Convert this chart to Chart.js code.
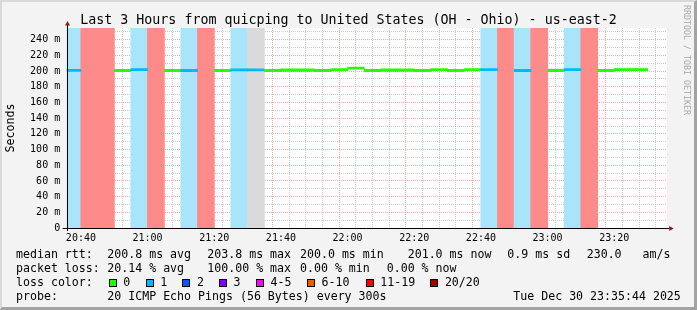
<!DOCTYPE html>
<html>
<head>
<meta charset="utf-8">
<script src="https://cdn.jsdelivr.net/npm/chart.js@4/dist/chart.umd.min.js"></script>
<style>
html,body{margin:0;padding:0;background:#f3f3f3;}
#wrap{position:relative;width:697px;height:310px;overflow:hidden;background:#f3f3f3;}
#frame{position:absolute;left:0;top:0;width:697px;height:310px;box-sizing:border-box;border-top:2px solid #d9d9d9;border-left:2px solid #d9d9d9;border-right:3px solid #a3a3a3;border-bottom:3px solid #a3a3a3;pointer-events:none;z-index:5;}
canvas{position:absolute;left:0;top:0;}
.mono{font-family:"DejaVu Sans Mono",monospace;color:#000;white-space:pre;position:absolute;}
.t{font-size:11.6px;line-height:14px;height:14px;}
#title{left:0;width:697px;text-align:center;top:11.5px;font-size:13.3px;line-height:16px;}
#ylab{font-size:11.6px;line-height:14px;width:100px;text-align:center;left:-40px;top:121px;transform:rotate(-90deg);}
#credit{font-size:8.3px;line-height:10px;width:120px;text-align:center;left:627px;top:55px;transform:rotate(90deg);color:#a8a8a8;}
.box{position:absolute;width:8px;height:8px;box-sizing:border-box;border:1px solid #000;}
</style>
</head>
<body>
<div id="wrap">
  <canvas id="c" width="697" height="310"></canvas>
  <div id="title" class="mono"></div>
  <div id="ylab" class="mono">Seconds</div>
  <div id="credit" class="mono">RRDTOOL / TOBI OETIKER</div>
  <div id="legend"></div>
  <div id="frame"></div>
</div>
<script>
// ---------------- data ----------------
const chartTitle = "Last 3 Hours from quicping to United States (OH - Ohio) - us-east-2";
const endTime = "23:35:44";
const rangeMinutes = 180;
const stepMinutes = 5;
const stepTimes = ["20:35","20:40","20:45","20:50","20:55","21:00","21:05","21:10","21:15","21:20","21:25","21:30",
                   "21:35","21:40","21:45","21:50","21:55","22:00","22:05","22:10","22:15","22:20","22:25","22:30",
                   "22:35","22:40","22:45","22:50","22:55","23:00","23:05","23:10","23:15","23:20","23:25","23:30"];
// lost pings out of 20 per step (null = no data)
const lossCount = [1,20,20,0,1,20,0,1,20,0,1,1,
                   0,0,0,0,0,0,0,0,0,0,0,0,
                   0,1,20,1,20,0,1,20,0,0,0,null];
// median round trip time in ms
const medianRtt = [201.0,null,null,200.8,201.8,null,200.8,200.8,null,200.8,201.6,201.6,
                   200.8,201.7,201.7,200.8,201.9,203.8,200.8,201.7,201.7,200.8,201.8,200.8,
                   201.9,201.9,null,200.8,null,200.8,201.9,null,200.8,201.9,201.9,null];
// visible smoke above / below the median (ms)
const smokeHigh = [202.6,null,null,null,203.0,null,null,null,null,null,202.4,null,
                   null,null,null,null,null,null,null,null,null,null,null,null,
                   null,null,null,null,null,202.8,null,null,null,204.0,204.0,null];
const smokeLow  = [null,null,null,null,null,null,null,null,null,null,null,null,
                   null,200.0,200.0,null,null,null,null,200.0,200.0,null,null,null,
                   null,null,null,null,null,null,null,null,null,null,null,null];
const unknownSteps = ["21:30"];
const yMaxMs = 255;
const yTickStep = 10;
const yLabelStep = 20;
const xLabelStep = 20;

const rttStats = ["200.8 ms avg","203.8 ms max","200.0 ms min","201.0 ms now","0.9 ms sd","230.0   am/s"];
const lossStats = ["20.14 % avg","100.00 % max","0.00 % min","0.00 % now"];
const lossLegendLabels = ["0","1","2","3","4-5","6-10","11-19","20/20"];
const lossLegendColors = ["#26ff00","#00b8ff","#0059ff","#7e00ff","#ff00ff","#ff5500","#ff0000","#a10000"];
const probeText = "20 ICMP Echo Pings (56 Bytes) every 300s";
const dateText = "Tue Dec 30 23:35:44 2025";

// ---------------- helpers ----------------
const toMin = s => { const p = s.split(':').map(Number); return p[0]*60 + p[1] + (p[2]||0)/60; };
const fmt = v => { const h = Math.floor(v/60), m = Math.round(v%60); return String(h).padStart(2,'0')+':'+String(m).padStart(2,'0'); };
const xEnd = toMin(endTime);
const xStart = xEnd - rangeMinutes;
const centers = stepTimes.map(t => toMin(t) + stepMinutes/2);
const lineColorFor = n => n >= 20 ? lossLegendColors[7] : n >= 11 ? lossLegendColors[6] : n >= 6 ? lossLegendColors[5] :
                          n >= 4 ? lossLegendColors[4] : lossLegendColors[Math.max(0, n)];
const HALF_LINE = 1.27; // ms, ~1 px

// ---------------- text ----------------
document.getElementById('title').textContent = chartTitle;
const leg = document.getElementById('legend');
function addText(txt, x, cy){
  const d = document.createElement('div');
  d.className = 'mono t'; d.textContent = txt;
  d.style.left = x + 'px'; d.style.top = (cy - 7) + 'px';
  leg.appendChild(d);
}
const rowY = [254.3, 268.3, 282.3, 296.3];
addText("median rtt:", 16, rowY[0]);
[107.3, 207.3, 300, 407.7, 507.3, 586.7].forEach((x,i)=>addText(rttStats[i], x, rowY[0]));
addText("packet loss:", 16, rowY[1]);
[107.3, 207.3, 300, 386.7].forEach((x,i)=>addText(lossStats[i], x, rowY[1]));
addText("loss color:", 16, rowY[2]);
[108.7, 145.7, 182.3, 219, 256, 307, 365.7, 430.3].forEach((x,i)=>{
  const b = document.createElement('div'); b.className='box';
  b.style.left = x+'px'; b.style.top = (rowY[2]-3.5)+'px'; b.style.background = lossLegendColors[i];
  leg.appendChild(b);
  addText(lossLegendLabels[i], x + 14.6, rowY[2]);
});
addText("probe:", 16, rowY[3]);
addText(probeText, 107.3, rowY[3]);
addText(dateText, 513.3, rowY[3]);

// ---------------- chart ----------------
const bandData = stepTimes.map((t,i) => {
  const unk = unknownSteps.includes(t);
  return {x: centers[i], y: (unk || (lossCount[i] !== null && lossCount[i] > 0)) ? [0, yMaxMs] : null};
});
const bandColors = stepTimes.map((t,i) => unknownSteps.includes(t) ? '#dadada' : (lossCount[i] >= 20 ? '#ff8a8a' : '#a8e5fb'));
const medianData = medianRtt.map((m,i) => ({x: centers[i], y: m === null ? null : [m - HALF_LINE, m + HALF_LINE]}));
const medianColors = lossCount.map(n => n === null ? 'rgba(0,0,0,0)' : lineColorFor(n));
const hiData = smokeHigh.map((h,i) => ({x: centers[i], y: (h === null || medianRtt[i] === null) ? null : [medianRtt[i], h]}));
const loData = smokeLow.map((l,i) => ({x: centers[i], y: (l === null || medianRtt[i] === null) ? null : [l, medianRtt[i]]}));

const barCommon = {type:'bar', grouped:false, barPercentage:1, categoryPercentage:1, borderWidth:0, borderSkipped:false};

const plotBg = {
  id:'plotBg',
  beforeDraw(chart){
    const {ctx, chartArea:a} = chart;
    ctx.save(); ctx.fillStyle = '#ffffff';
    ctx.fillRect(a.left, a.top, a.right - a.left, a.bottom - a.top);
    ctx.restore();
  }
};
const axesPlugin = {
  id:'axesArrows',
  afterDatasetsDraw(chart){
    const {ctx, chartArea:a} = chart;
    const L = Math.round(a.left) + 0.5, B = Math.round(a.bottom) + 0.5;
    ctx.save();
    ctx.setLineDash([]);
    ctx.strokeStyle = '#000'; ctx.lineWidth = 1;
    ctx.beginPath();
    ctx.moveTo(a.left - 4, B); ctx.lineTo(a.right + 3, B);
    ctx.moveTo(L, a.bottom + 3); ctx.lineTo(L, a.top - 3);
    ctx.stroke();
    ctx.fillStyle = '#8b1a1a';
    ctx.beginPath();
    ctx.moveTo(a.right + 2.5, B - 2.5); ctx.lineTo(a.right + 7, B); ctx.lineTo(a.right + 2.5, B + 2.5); ctx.closePath(); ctx.fill();
    ctx.beginPath();
    ctx.moveTo(L - 2.5, a.top - 2.5); ctx.lineTo(L, a.top - 7); ctx.lineTo(L + 2.5, a.top - 2.5); ctx.closePath(); ctx.fill();
    ctx.restore();
  }
};

const monoFont = {family:'"DejaVu Sans Mono", monospace', size:10};
const majorGrid = 'rgba(240,140,140,0.7)';
const minorGrid = 'rgba(185,185,185,0.7)';

new Chart(document.getElementById('c'), {
  type:'bar',
  data:{
    datasets:[
      Object.assign({label:'median', data:medianData, backgroundColor:medianColors, order:1, inflateAmount:0.4}, barCommon),
      Object.assign({label:'smokeLow', data:loData, backgroundColor:'#8c8c8c', order:2}, barCommon),
      Object.assign({label:'smokeHigh', data:hiData, backgroundColor:'#cfcfcf', order:3}, barCommon),
      Object.assign({label:'loss', data:bandData, backgroundColor:bandColors, order:4, inflateAmount:0.5}, barCommon)
    ]
  },
  options:{
    responsive:false, animation:false, devicePixelRatio:1,
    layout:{padding:{left:0, top:28, right:30.3, bottom:0}},
    plugins:{legend:{display:false}, tooltip:{enabled:false}, title:{display:false}},
    scales:{
      x:{
        type:'linear', min:xStart, max:xEnd, offset:false,
        afterBuildTicks: s => { const t = []; for (let v = Math.ceil(xStart/stepMinutes)*stepMinutes; v <= xEnd; v += stepMinutes) t.push({value:v}); s.ticks = t; },
        afterFit: s => { s.height = 82; },
        ticks:{autoSkip:false, maxRotation:0, minRotation:0, font:monoFont, color:'#000', padding:4,
               callback: v => (Math.round(v) % xLabelStep === 0) ? fmt(v) : ''},
        grid:{drawTicks:false, lineWidth:1, color: c => (c.tick && Math.round(c.tick.value) % xLabelStep === 0) ? majorGrid : minorGrid},
        border:{display:false, dash:[1,1]}
      },
      y:{
        type:'linear', min:0, max:yMaxMs,
        afterBuildTicks: s => { const t = []; for (let v = 0; v <= yMaxMs; v += yTickStep) t.push({value:v}); s.ticks = t; },
        afterFit: s => { s.width = 66.7; },
        ticks:{autoSkip:false, font:monoFont, color:'#000', padding:6.5,
               callback: v => (v % yLabelStep === 0) ? (v === 0 ? '0' : v + ' m') : ''},
        grid:{drawTicks:false, lineWidth:1, color: c => (c.tick && c.tick.value % yLabelStep === 0) ? majorGrid : minorGrid},
        border:{display:false, dash:[1,1]}
      }
    }
  },
  plugins:[plotBg, axesPlugin]
});
</script>
</body>
</html>
